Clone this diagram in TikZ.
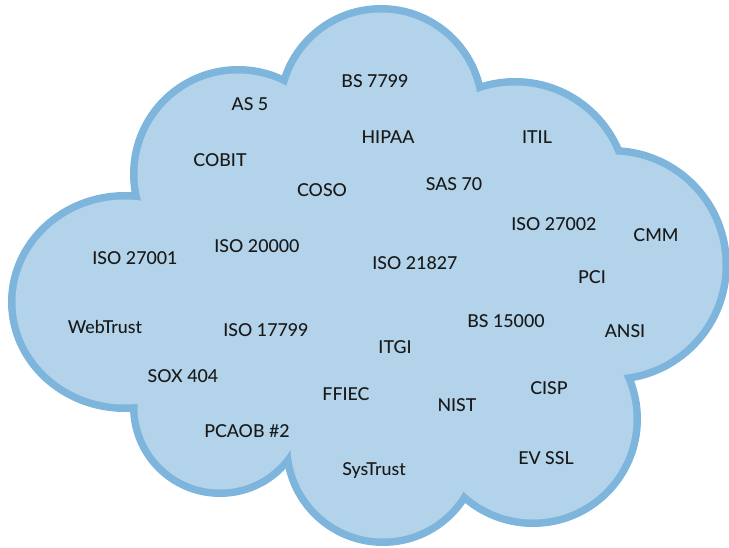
\documentclass[tikz,border=0pt]{standalone}
\usepackage{fontspec}
\IfFontExistsTF{Lato Medium}{\setsansfont{Lato Medium}}{\setsansfont{Lato}[FakeBold=0.6]}
\usetikzlibrary{positioning}
\definecolor{cloudedge}{RGB}{126,181,220}
\definecolor{cloudfill}{RGB}{178,211,233}

\begin{document}
\begin{tikzpicture}[
        x=1pt, y=1pt,
        font=\sffamily\fontsize{17.8}{20}\selectfont,
        lbl/.style={anchor=base, yshift=-6.3pt, inner sep=0pt, text=black!90}
    ]
    \useasboundingbox (0,0) rectangle (729,547);

    % cloud: lobes in edge colour first, then the same lobes shrunk in fill colour
    \foreach \col/\off in {cloudedge/0, cloudfill/7.5}
        \foreach \cx/\cy/\rx/\ry in {381/437/105/105, 515/353/116/116, 612/282/118/118,
                533/128/108/108, 383/101/100/100, 220/140/90/90, 125/245/117/110, 238/373/108/108}
            \fill[\col] (\cx,\cy) ellipse[x radius=\rx-\off, y radius=\ry-\off];
    \fill[cloudfill] (381,437) -- (515,353) -- (612,282) -- (533,128) -- (383,101)
        -- (220,140) -- (125,245) -- (238,373) -- cycle;

    % standards
    \node[lbl] (bs7799) at (375,466) {BS 7799};
    \node[lbl] (as5) at (250,443) {AS 5};
    \node[lbl] (hipaa) at (388,410) {HIPAA};
    \node[lbl] (itil) at (537,410) {ITIL};
    \node[lbl] (cobit) at (220,387) {COBIT};
    \node[lbl] (coso) at (322,357) {COSO};
    \node[lbl] (sas70) at (454,363) {SAS 70};
    \node[lbl] (iso27002) at (554,323) {ISO 27002};
    \node[lbl] (cmm) at (656,312) {CMM};
    \node[lbl] (iso27001) at (135,289) {ISO 27001};
    \node[lbl] (iso20000) at (257,301) {ISO 20000};
    \node[lbl] (iso21827) at (415,284) {ISO 21827};
    \node[lbl] (pci) at (592,270) {PCI};
    \node[lbl] (webtrust) at (105,220) {WebTrust};
    \node[lbl] (iso17799) at (266,217) {ISO 17799};
    \node[lbl] (bs15000) at (506,226) {BS 15000};
    \node[lbl] (ansi) at (625,216) {ANSI};
    \node[lbl] (itgi) at (395,200) {ITGI};
    \node[lbl] (sox404) at (183,171) {SOX 404};
    \node[lbl] (ffiec) at (346,153) {FFIEC};
    \node[lbl] (nist) at (457,142) {NIST};
    \node[lbl] (cisp) at (549,159) {CISP};
    \node[lbl] (pcaob) at (247,116) {PCAOB \#2};
    \node[lbl] (systrust) at (374,78) {SysTrust};
    \node[lbl] (evssl) at (546,89) {EV SSL};
\end{tikzpicture}
\end{document}
